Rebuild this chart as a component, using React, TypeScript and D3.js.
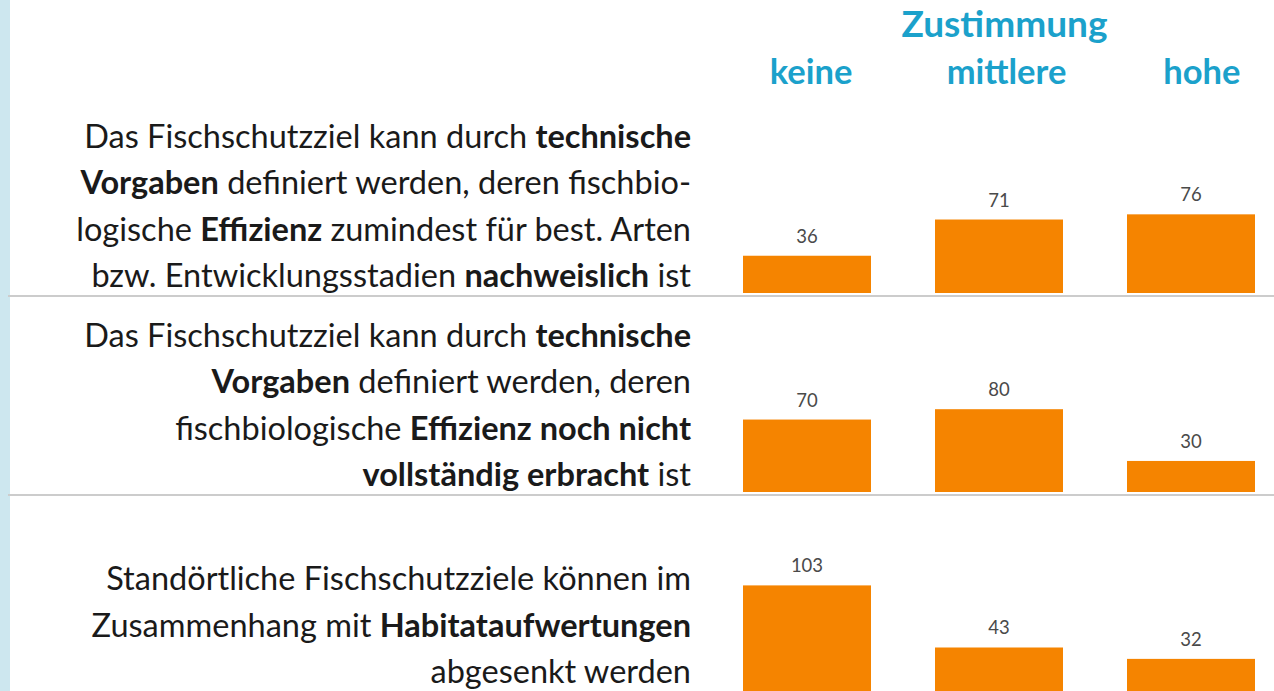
import React from "react";
import * as d3 from "d3";

const categories = ["keine", "mittlere", "hohe"];
const headerTitle = "Zustimmung";

const valuesTechNachweislich = [36, 71, 76];
const valuesTechNichtErbracht = [70, 80, 30];
const valuesHabitat = [103, 43, 32];

type Seg = [string, boolean];
const statementTech1: Seg[][] = [
  [["Das Fischschutzziel kann durch ", false], ["technische", true]],
  [["Vorgaben", true], [" definiert werden, deren fischbio-", false]],
  [["logische ", false], ["Effizienz", true], [" zumindest für best. Arten", false]],
  [["bzw. Entwicklungsstadien ", false], ["nachweislich", true], [" ist", false]],
];
const statementTech2: Seg[][] = [
  [["Das Fischschutzziel kann durch ", false], ["technische", true]],
  [["Vorgaben", true], [" definiert werden, deren", false]],
  [["fischbiologische ", false], ["Effizienz noch nicht", true]],
  [["vollständig erbracht", true], [" ist", false]],
];
const statementHabitat: Seg[][] = [
  [["Standörtliche Fischschutzziele können im", false]],
  [["Zusammenhang mit ", false], ["Habitataufwertungen", true]],
  [["abgesenkt werden", false]],
];

const panels = [
  { values: valuesTechNachweislich, lines: statementTech1 },
  { values: valuesTechNichtErbracht, lines: statementTech2 },
  { values: valuesHabitat, lines: statementHabitat },
];

const W = 1274;
const H = 691;
const FONT = "Lato, 'Open Sans', sans-serif";
const BLUE = "#1ba1cb";
const ORANGE = "#f58400";

export default function App() {
  const x = d3.scaleBand<string>().domain(categories).range([743, 1255]).paddingInner(1 / 3).paddingOuter(0);
  const xHead = d3.scaleBand<string>().domain(categories).range([746, 1267]).paddingInner(1 / 3).paddingOuter(0);
  const h = d3.scaleLinear().domain([0, 100]).range([0, 103.5]);
  const panelBottom = [293, 492, 692];
  const lineGap = 46.5;
  const textRight = 691;

  return (
    <svg width={W} height={H} style={{ position: "absolute", left: 0, top: 0, background: "#fff" }} fontFamily={FONT}>
      <rect x={0} y={0} width={W} height={H} fill="#fff" />
      <rect x={0} y={0} width={10} height={H} fill="#cde7ef" />
      <text x={xHead("mittlere")! + xHead.bandwidth() / 2 - 2} y={37} textAnchor="middle" fontSize={37} fontWeight="bold" fill={BLUE}>
        {headerTitle}
      </text>
      {categories.map((c) => (
        <text key={c} x={xHead(c)! + xHead.bandwidth() / 2} y={84} textAnchor="middle" fontSize={34.5} fontWeight="bold" fill={BLUE}>
          {c}
        </text>
      ))}
      {panels.map((p, pi) => {
        const bottom = panelBottom[pi];
        const n = p.lines.length;
        const lastBaseline = bottom - 6;
        return (
          <g key={pi}>
            {pi < 2 && <line x1={8} x2={W} y1={bottom + 3} y2={bottom + 3} stroke="#cccccc" strokeWidth={2} />}
            {p.lines.map((segs, li) => (
              <text
                key={li}
                x={textRight}
                y={lastBaseline - (n - 1 - li) * lineGap - (pi === 2 ? 3 : 0)}
                textAnchor="end"
                fontSize={32.5}
                fill="#1a1a1a"
              >
                {segs.map((s, si) => (
                  <tspan key={si} fontWeight={s[1] ? "bold" : "normal"}>
                    {s[0]}
                  </tspan>
                ))}
              </text>
            ))}
            {p.values.map((v, vi) => {
              const c = categories[vi];
              const bh = h(v);
              return (
                <g key={c}>
                  <rect x={x(c)!} y={bottom - bh} width={x.bandwidth()} height={bh} fill={ORANGE} />
                  <text
                    x={x(c)! + x.bandwidth() / 2}
                    y={bottom - bh - 13}
                    textAnchor="middle"
                    fontSize={18.5}
                    fill="#4a4a4a"
                  >
                    {v}
                  </text>
                </g>
              );
            })}
          </g>
        );
      })}
    </svg>
  );
}
